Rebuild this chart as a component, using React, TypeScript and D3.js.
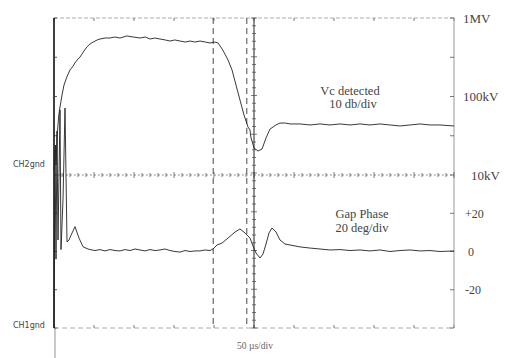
import React from "react";
import * as d3 from "d3";

// time in µs, Vc in kV
const vcTrace: [number, number][] = [
  [0, 11.6], [1, 15.5], [2, 24.1], [2.5, 13.4], [4, 32.4], [5, 43.4], [6, 58.1], [7.5, 73.5],
  [10, 104.5], [12.5, 140], [16, 177], [20, 218], [24, 245], [26, 267], [30, 300], [32.5, 318],
  [37.5, 380], [41, 427], [45, 467], [49, 494], [54, 525], [57.5, 540], [64, 556], [70, 556],
  [76, 573], [82.5, 556], [91, 590], [99, 573], [107.5, 556], [114, 573], [120, 540], [126, 556],
  [132.5, 540], [139, 525], [145, 509], [151, 525], [157.5, 509], [164, 494], [170, 509], [176, 494],
  [182.5, 509], [189, 494], [195, 481], [201, 494], [205, 481], [211, 391], [217.5, 292], [222.5, 218],
  [227.5, 140], [232.5, 90], [237.5, 58.1], [242.5, 40.8], [245, 37.4], [246, 30.5], [250, 22.1],
  [255, 20.2], [260, 21.4], [265, 29.6], [270, 38.5], [277.5, 43.4], [282.5, 45.9], [289, 45.9],
  [295, 44.7], [307.5, 44.7], [320, 43.4], [332.5, 44.7], [345, 43.4], [357.5, 44.7], [370, 43.4],
  [382.5, 44.7], [395, 43.4], [407.5, 44.7], [420, 43.4], [432.5, 42.1], [445, 43.4], [457.5, 44.7],
  [470, 43.4], [482.5, 43.4], [500, 42.1],
];

// time in µs, gap phase in degrees
const phaseTrace: [number, number][] = [
  [0, -40], [1.25, 53], [2.5, -4], [3.75, 63], [5, 6], [7.5, 74], [8.75, 1], [11.25, 27],
  [13.75, 75], [15, 40], [16.25, 5], [18.75, 6], [21.25, 8.5], [26.25, 13], [31.25, 7], [36.25, 2.5],
  [41.25, 1.5], [45, 1], [51.25, 0.5], [57.5, 1], [63.75, 0.3], [70, 1], [76.25, 0.5], [82.5, 0.3],
  [88.75, 1], [95, 0.5], [101.25, 1.3], [107.5, 0.8], [113.75, 0.3], [120, 1], [126.25, 0.5],
  [132.5, 0.8], [138.75, 1.3], [145, 0.5], [151.25, 0], [157.5, -0.3], [163.75, 0.5], [170, 0],
  [176.25, 0.3], [182.5, 0.3], [188.75, 0.8], [195, 0.5], [198.75, 1.3], [203.75, 3.4], [210, 4.4],
  [217.5, 7], [226.25, 10.2], [232.5, 11.8], [238.75, 9.7], [245, 7], [248.75, 2.9], [252.5, -0.8],
  [257.5, -3.4], [261.25, -1.3], [265, 3.9], [268.75, 9.7], [272.5, 12.3], [277.5, 10.2], [282.5, 6],
  [288.75, 3.9], [295, 3.4], [301.25, 2.9], [307.5, 2.4], [320, 1.8], [332.5, 1.3], [345, 0.8],
  [357.5, 1], [370, 0.5], [382.5, 0.8], [395, 0.3], [407.5, 0.8], [420, 0], [432.5, 0.5], [445, 0.8],
  [457.5, 0.3], [470, 0.5], [482.5, 0], [500, 0.3],
];

const timeDivisions = [0, 50, 100, 150, 200, 250, 300, 350, 400, 450, 500];
const cursorTimes = [199, 241];
const vcTickValues = [1000, 316, 100, 31.6, 10];
const vcLabelValues = [1000, 100, 10];
const vcLabels = ["1MV", "100kV", "10kV"];
const phaseTickValues = [40, 20, 0, -20, -40];
const phaseLabelValues = [20, 0, -20];
const phaseLabels = ["+20", "0", "-20"];

const W = 505;
const H = 358;
const L = 54, R = 454, T = 18, B = 328, MID = 175;

export default function App() {
  const x = d3.scaleLinear().domain([0, 500]).range([L, R]);
  const yVc = d3.scaleLog().domain([10, 1000]).range([MID, T]);
  const yPh = d3.scaleLinear().domain([-40, 40]).range([B, MID]);

  const vcLine = d3.line<[number, number]>().x((d) => x(d[0])).y((d) => yVc(d[1]));
  const phLine = d3.line<[number, number]>().x((d) => x(d[0])).y((d) => yPh(d[1]));

  const cx = x(250);
  const minorV = d3.range(T, B + 0.1, (B - T) / 40);
  const minorH = d3.range(L, R + 0.1, (R - L) / 50);
  const divY = [...vcTickValues.map((v) => yVc(v)), ...phaseTickValues.slice(1).map((v) => yPh(v))];

  const serif = "'Liberation Serif', 'DejaVu Serif', serif";
  const sans = "'DejaVu Sans', sans-serif";

  return (
    <svg width={W} height={H} style={{ position: "absolute", left: 0, top: 0, background: "#fff" }}>
      <rect x={0} y={0} width={W} height={H} fill="#fff" />
      {/* top & bottom borders */}
      <line x1={L} x2={R} y1={T} y2={T} stroke="#999" strokeDasharray="4 2" strokeWidth={0.8} />
      <line x1={L} x2={R} y1={B} y2={B} stroke="#999" strokeDasharray="5 3" strokeWidth={0.8} />
      {timeDivisions.map((t, i) => (
        <g key={"td" + i}>
          <line x1={x(t)} x2={x(t)} y1={T} y2={T + 3} stroke="#555" strokeWidth={0.8} />
          <line x1={x(t)} x2={x(t)} y1={B - 3} y2={B} stroke="#555" strokeWidth={0.8} />
        </g>
      ))}
      {/* right axis */}
      <line x1={R} x2={R} y1={T} y2={B} stroke="#999" strokeWidth={1} />
      {divY.map((y, i) => (
        <line key={"rt" + i} x1={R - 4} x2={R} y1={y} y2={y} stroke="#555" strokeWidth={0.8} />
      ))}
      {/* left axis */}
      <line x1={L} x2={L} y1={T} y2={B} stroke="#111" strokeWidth={1.6} />
      <line x1={L + 1} x2={L + 1} y1={B} y2={H} stroke="#777" strokeWidth={0.8} />
      {divY.map((y, i) => (
        <line key={"lt" + i} x1={L} x2={L + 3} y1={y} y2={y} stroke="#333" strokeWidth={0.8} />
      ))}
      {/* center horizontal axis */}
      <line x1={L} x2={R} y1={MID} y2={MID} stroke="#777" strokeDasharray="2 2" strokeWidth={0.8} />
      {minorH.map((px, i) => (
        <line key={"mh" + i} x1={px} x2={px} y1={MID - (i % 5 === 0 ? 3 : 2)} y2={MID + (i % 5 === 0 ? 3 : 2)} stroke="#444" strokeWidth={0.7} />
      ))}
      {/* center vertical axis */}
      <line x1={cx} x2={cx} y1={T} y2={B} stroke="#222" strokeWidth={1} />
      {minorV.map((py, i) => (
        <line key={"mv" + i} x1={cx - (i % 5 === 0 ? 3 : 2)} x2={cx + (i % 5 === 0 ? 3 : 2)} y1={py} y2={py} stroke="#444" strokeWidth={0.7} />
      ))}
      {/* cursors */}
      {cursorTimes.map((t, i) => (
        <line key={"cur" + i} x1={x(t)} x2={x(t)} y1={T} y2={B} stroke="#333" strokeWidth={0.9} strokeDasharray="6 4" />
      ))}
      {/* traces */}
      <path d={vcLine(vcTrace) || ""} fill="none" stroke="#222" strokeWidth={0.9} />
      <path d={phLine(phaseTrace) || ""} fill="none" stroke="#222" strokeWidth={0.9} />
      {/* right labels */}
      {vcLabelValues.map((v, i) => (
        <text key={"vl" + i} x={vcLabels[i] === "10kV" ? 471 : 463} y={yVc(v) + 4.5} fontFamily={serif} fontSize={13} fill="#444">
          {vcLabels[i]}
        </text>
      ))}
      {phaseLabelValues.map((v, i) => (
        <text key={"pl" + i} x={v === 0 ? 468 : 465} y={yPh(v) + 4.5} fontFamily={serif} fontSize={12} fill="#444">
          {phaseLabels[i]}
        </text>
      ))}
      {/* annotations */}
      <text x={350} y={95} textAnchor="middle" fontFamily={serif} fontSize={12.5} fill="#444">Vc detected</text>
      <text x={353} y={108} textAnchor="middle" fontFamily={serif} fontSize={12.5} fill="#444">10 db/div</text>
      <text x={362} y={218} textAnchor="middle" fontFamily={serif} fontSize={12.5} fill="#444">Gap Phase</text>
      <text x={362} y={232} textAnchor="middle" fontFamily={serif} fontSize={12.5} fill="#444">20 deg/div</text>
      <text x={255} y={349} textAnchor="middle" fontFamily={serif} fontSize={9.5} fill="#666">50 µs/div</text>
      <text x={13} y={167} fontFamily={sans} fontSize={8} fill="#444">CH2gnd</text>
      <text x={13} y={328} fontFamily={sans} fontSize={8} fill="#444">CH1gnd</text>
    </svg>
  );
}
